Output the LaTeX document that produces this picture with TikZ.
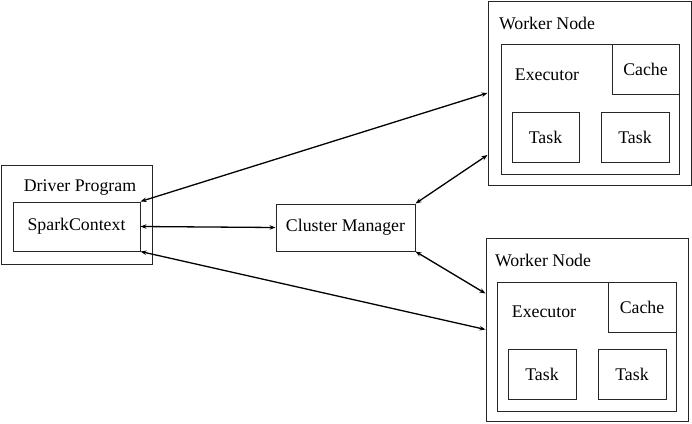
\documentclass[tikz,border=0pt]{standalone}
\usepackage{fontspec}
\setmainfont{Liberation Serif}
\usetikzlibrary{%
    arrows.meta,
    calc,
    positioning
}

\tikzset{
    box/.style={draw=black!85, line width=1pt, inner sep=0pt},
    tag/.style={inner sep=0pt},
    link/.style={{Stealth[length=6pt,width=4.5pt]}-{Stealth[length=6pt,width=4.5pt]}, line width=1.3pt}
}

\begin{document}
\begin{tikzpicture}[x=1pt, y=-1pt, font=\rmfamily\fontsize{17.8}{20}\selectfont]
    \useasboundingbox (0,0) rectangle (692,423);

    % driver and manager
    \node[box, minimum width=151, minimum height=99] (driver) at (76.5,214.5) {};
    \node[tag] (drivertag) at (80,188) {Driver Program};
    \node[box, minimum width=127, minimum height=49] (spark) at (76.5,226.5) {SparkContext};
    \node[box, minimum width=139, minimum height=47] (cm) at (345.5,227.5) {Cluster Manager};

    % upper worker
    \node[box, minimum width=203, minimum height=184] (w1) at (589.5,93) {};
    \node[tag] (w1tag) at (547,23) {Worker Node};
    \node[box, minimum width=178, minimum height=130] (exec1) at (590,109) {};
    \node[tag] (exec1tag) at (547,75) {Executor};
    \node[box, minimum width=67, minimum height=50] (cache1) at (645.5,69) {Cache};
    \node[box, minimum width=67, minimum height=50] (task1a) at (545.5,137) {Task};
    \node[box, minimum width=68, minimum height=50] (task1b) at (635,137) {Task};

    % lower worker
    \node[box, minimum width=202, minimum height=183] (w2) at (587,329.5) {};
    \node[tag] (w2tag) at (543,260) {Worker Node};
    \node[box, minimum width=179, minimum height=129] (exec2) at (586.5,346.5) {};
    \node[tag] (exec2tag) at (544,312) {Executor};
    \node[box, minimum width=68, minimum height=50] (cache2) at (642,307) {Cache};
    \node[box, minimum width=68, minimum height=50] (task2a) at (542,374) {Task};
    \node[box, minimum width=68, minimum height=50] (task2b) at (632,374.5) {Task};

    \coordinate (w1low) at ([yshift=-62pt]w1.west);
    \coordinate (w2high) at ([yshift=36pt]w2.west);

    \foreach \Source/\Target in {spark.north east/w1.west, spark.east/cm.west,
                                 spark.south east/w2.west, cm.north east/w1low,
                                 cm.south east/w2high}
        \draw[link] (\Source) -- (\Target);
\end{tikzpicture}
\end{document}
